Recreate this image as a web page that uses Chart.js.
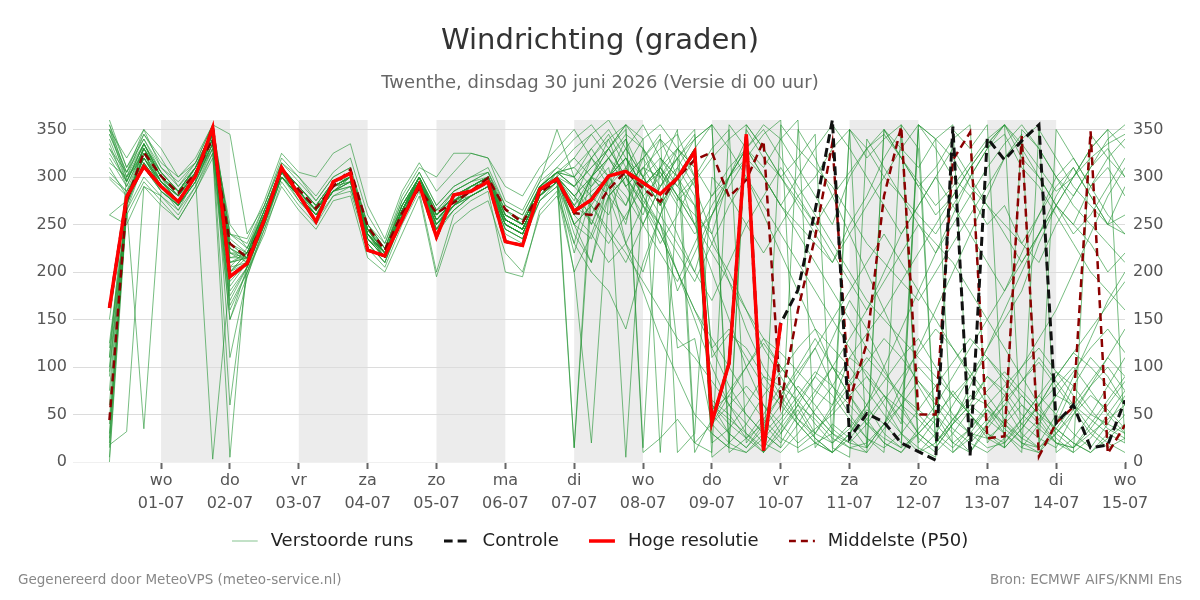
<!DOCTYPE html>
<html><head><meta charset="utf-8">
<script src="https://cdn.jsdelivr.net/npm/chart.js@4.4.1/dist/chart.umd.min.js"></script>
<style>html,body{margin:0;padding:0;background:#fff;}canvas{display:block;}</style>
</head><body>
<canvas id="c" width="1200" height="600"></canvas>
<script>
// time axis: hours since di 30-06-2026 00:00
const hours = [6,12,18,24,30,36,42,48,54,60,66,72,78,84,90,96,102,108,114,120,126,132,138,144,150,156,162,168,174,180,186,192,198,204,210,216,222,228,234,240,246,252,258,264,270,276,282,288,294,300,306,312,318,324,330,336,342,348,354,360];
const tickHours = [24,48,72,96,120,144,168,192,216,240,264,288,312,336,360];
const tickDays = ['wo','do','vr','za','zo','ma','di','wo','do','vr','za','zo','ma','di','wo'];
const tickDates = ['01-07','02-07','03-07','04-07','05-07','06-07','07-07','08-07','09-07','10-07','11-07','12-07','13-07','14-07','15-07'];
const shadedDays = [[24,48],[72,96],[120,144],[168,192],[216,240],[264,288],[312,336]];
const yTicks = [0,50,100,150,200,250,300,350];
const legendNames = ['Verstoorde runs','Controle','Hoge resolutie','Middelste (P50)'];

const hres = [162,279,311,290,274,301,352,195,209,255,310,281,253,295,304,223,217,255,292,237,281,285,295,232,228,287,298,264,276,301,306,294,282,299,327,42,104,345,12,146];
const control = [162,279,311,290,274,301,352,195,209,255,310,281,253,295,304,223,217,255,292,237,281,285,295,232,228,287,298,264,276,301,306,294,282,299,327,42,104,345,12,146,181,265,360,25,51,42,20,11,2,353,7,341,318,338,355,41,60,15,18,65];
const p50 = [44,275,326,301,283,304,340,230,215,255,308,287,267,290,308,248,223,262,288,262,273,285,299,266,252,283,297,262,260,287,306,288,274,299,318,326,279,297,338,62,160,237,336,65,125,280,353,50,50,318,347,25,27,343,6,41,58,348,9,39];

const m01 = [355,300,335,300,285,310,350,225,210,255,310,290,270,295,305,245,215,260,300,250,270,290,300,250,240,280,305,290,320,300,270,310,330,345,300,20,35,60,90,80,45,30,60,110,95,70,40,355,330,300,280,250,270,230,260,300,320,290,310,280];
const m02 = [15,275,325,290,275,300,345,200,220,265,305,280,260,285,300,235,220,270,295,260,280,285,295,260,250,290,300,240,210,280,300,250,290,320,340,355,10,25,40,20,50,75,100,85,60,30,15,350,20,45,70,60,35,20,10,40,80,110,90,60];
const m03 = [360,310,345,320,290,315,355,345,240,270,315,300,275,300,310,250,225,275,305,270,290,300,305,270,260,295,310,300,330,350,320,290,305,280,260,240,300,330,355,340,310,280,250,300,330,345,320,290,260,280,310,335,355,320,300,270,250,290,320,340];
const m04 = [120,265,315,285,270,295,335,180,205,250,300,275,255,280,290,230,210,255,290,240,265,280,290,240,230,275,295,260,300,280,255,300,320,290,270,60,30,15,40,70,95,120,80,50,25,10,355,330,20,45,65,90,70,40,25,15,50,80,100,75];
const m05 = [335,290,330,305,285,305,340,230,215,260,305,285,265,290,300,240,220,265,295,255,270,285,295,255,245,285,300,270,290,310,230,180,130,90,50,30,15,350,320,300,270,240,210,250,280,320,350,10,30,60,90,120,150,180,230,270,300,330,350,20];
const m06 = [45,280,320,295,275,300,345,160,200,255,300,280,260,290,295,235,215,260,300,265,275,280,290,250,240,280,295,250,270,300,330,355,320,300,330,60,40,25,50,80,65,40,20,35,60,85,110,130,100,70,50,30,20,45,70,50,30,15,40,70];
const m07 = [305,285,310,290,265,300,330,205,225,260,310,290,270,285,300,245,225,270,300,260,285,295,305,265,255,290,310,330,345,320,300,275,250,200,150,100,60,30,10,355,330,310,290,260,230,210,190,170,200,230,260,290,320,340,355,10,25,50,80,110];
const m08 = [90,270,335,300,280,310,350,110,195,250,305,285,265,295,305,240,215,260,295,250,275,290,300,255,245,285,305,15,280,300,320,290,310,330,300,40,20,10,30,50,80,60,35,20,15,40,70,100,80,50,30,25,40,60,45,20,10,25,50,75];
const m09 = [345,300,325,295,280,305,340,220,210,255,300,280,265,290,300,235,215,265,295,245,270,285,295,250,240,280,300,280,300,290,270,320,340,300,270,230,200,160,120,90,60,30,20,40,15,350,330,310,340,355,20,40,60,30,15,350,320,290,260,240];
const m10 = [18,32,290,280,265,290,325,5,215,260,305,285,265,290,295,240,220,265,295,255,275,285,295,255,245,285,300,260,240,290,310,280,300,330,350,55,70,100,130,115,95,75,60,85,110,90,70,55,40,20,35,60,80,100,120,95,70,50,40,30];
const m11 = [330,295,335,300,285,310,345,210,220,265,310,290,270,295,305,250,225,270,300,260,280,290,300,265,250,290,305,300,280,260,310,340,355,330,310,280,300,320,345,360,10,20,30,350,330,300,280,260,240,270,300,330,345,310,290,260,230,200,180,160];
const m12 = [110,275,310,285,270,295,335,170,205,250,300,280,260,285,290,230,210,260,290,245,265,280,290,245,235,275,290,220,280,300,5,290,310,280,300,120,140,110,80,60,40,20,10,25,45,70,55,30,15,40,60,90,75,50,35,20,15,30,45,60];
const m13 = [298,280,320,290,275,300,340,230,215,260,305,285,265,290,300,240,220,265,295,255,275,285,295,255,245,285,300,280,300,330,355,330,300,270,240,260,290,320,300,270,250,230,210,240,270,300,330,355,340,320,290,270,250,230,210,250,280,310,330,300];
const m14 = [0,265,300,280,260,290,330,60,200,245,300,280,260,285,295,235,215,260,295,250,270,285,295,250,240,280,295,200,20,280,300,270,310,290,320,65,50,25,10,35,60,45,25,15,20,40,60,45,25,10,30,55,40,20,15,30,50,70,55,35];
const m15 = [350,305,340,310,290,310,350,240,225,265,310,290,270,295,305,245,225,270,300,265,285,295,305,260,250,290,305,310,330,300,280,250,220,190,230,270,300,330,350,320,290,260,230,200,170,150,130,110,90,70,50,30,15,350,330,300,270,250,230,210];
const m16 = [125,270,325,290,275,300,345,200,210,255,305,285,265,290,300,240,220,265,295,250,275,285,295,255,245,285,300,270,255,230,260,290,310,280,250,220,190,160,130,100,75,50,30,20,40,65,90,115,140,120,95,70,45,25,15,35,60,85,110,90];
const m17 = [320,290,330,300,280,305,345,215,220,260,305,285,265,290,300,245,220,265,300,255,275,285,300,255,245,285,300,290,310,330,350,10,25,45,20,10,355,330,310,340,360,15,40,25,10,350,320,290,310,340,355,20,45,70,50,25,10,345,320,300];
const m18 = [60,285,330,295,280,305,340,225,215,260,305,285,265,290,300,240,220,265,295,260,275,285,295,255,245,285,300,265,285,300,320,290,260,230,200,170,210,250,280,310,280,250,220,190,160,200,240,270,300,270,240,210,180,220,260,290,310,280,250,260];
const m19 = [340,295,330,300,285,310,345,220,215,255,305,280,260,290,300,240,215,260,295,250,270,285,295,250,240,280,300,250,270,240,210,250,290,320,345,5,20,40,70,95,120,140,120,100,75,50,30,15,5,350,330,355,15,35,60,90,115,100,80,60];
const m20 = [20,270,315,290,270,300,340,185,210,255,300,280,260,285,295,235,215,260,290,250,270,280,290,250,240,280,295,230,300,320,290,310,280,120,130,40,60,80,60,40,20,35,50,70,90,70,45,25,10,30,55,75,95,75,55,35,20,10,30,50];
const m21 = [310,280,320,290,275,300,335,200,215,260,305,285,265,290,300,245,220,265,300,260,280,290,300,260,250,290,305,320,345,360,330,300,270,300,330,355,20,355,330,300,320,345,15,5,340,310,280,250,220,250,280,310,335,355,330,300,280,310,340,355];
const m22 = [100,275,325,295,275,300,340,195,210,255,305,285,265,290,300,240,220,265,295,255,275,285,295,255,245,285,300,280,260,300,320,280,240,200,160,130,100,70,45,25,15,30,55,80,105,130,110,85,60,35,20,10,25,45,70,95,80,55,35,25];
const m23 = [355,310,340,305,285,310,350,235,220,265,310,290,270,295,305,250,225,270,300,265,285,295,300,265,255,290,305,300,320,345,310,280,250,220,190,230,270,300,260,220,180,140,100,70,45,20,10,35,60,90,120,150,180,210,240,270,250,230,200,220];
const m24 = [30,280,320,295,275,300,340,210,215,260,305,285,265,290,300,240,220,265,295,255,275,285,295,255,245,285,300,260,300,340,355,15,320,300,330,110,135,120,90,65,40,20,10,30,55,40,20,355,340,10,25,45,65,85,105,80,55,30,15,25];
const m25 = [325,295,335,300,280,305,345,215,215,260,305,285,265,290,300,245,220,270,300,260,280,290,300,260,250,290,305,290,270,245,220,190,160,130,110,85,60,40,20,10,30,55,80,110,135,160,190,220,250,280,310,335,355,330,300,270,240,260,290,320];
const m26 = [5,270,35,285,270,295,335,150,205,250,300,280,260,285,295,235,215,260,290,245,270,280,290,245,235,280,295,15,300,320,290,310,300,320,10,45,75,100,125,100,75,50,30,15,10,35,60,85,65,45,30,15,20,40,60,80,100,75,50,30];
const m27 = [345,305,335,305,285,310,345,230,220,265,310,285,265,295,300,245,220,265,300,260,280,290,300,260,250,290,305,310,290,320,345,330,305,275,295,320,340,355,330,300,275,250,280,305,330,350,320,295,270,290,315,340,355,335,310,285,300,320,335,345];
const m28 = [75,275,320,290,275,300,340,205,210,255,305,285,265,290,300,240,220,265,295,255,275,285,295,255,245,285,300,280,250,290,320,300,270,300,320,50,30,15,35,60,90,120,150,180,210,240,210,180,150,120,90,60,40,25,45,70,95,120,140,115];
const m29 = [300,285,315,290,270,300,3,195,210,255,300,280,260,285,295,240,215,260,290,250,270,280,290,250,240,280,295,270,300,330,355,340,10,280,250,280,310,330,300,270,240,210,180,150,120,95,70,50,30,15,35,55,30,10,350,320,290,270,250,240];
const m30 = [260,275,310,285,270,295,330,175,205,250,300,280,260,285,290,230,210,255,290,245,265,280,290,245,235,275,290,250,235,280,300,320,290,310,280,60,45,30,15,40,65,90,70,45,25,15,30,55,80,105,130,110,85,60,40,20,15,35,60,85];
const m31 = [350,320,350,330,300,315,355,240,230,270,320,300,280,305,320,260,230,280,310,300,325,325,320,275,265,300,320,340,355,330,300,320,345,10,30,300,280,250,220,250,280,300,330,350,15,40,80,120,160,200,240,280,320,345,20,50,90,130,170,200];
const m32 = [260,250,290,270,255,285,320,150,195,245,290,265,245,275,280,215,200,240,280,195,250,265,275,220,200,260,280,230,200,180,140,210,260,300,250,200,150,100,60,30,60,90,130,170,140,100,60,30,15,40,80,120,160,200,240,280,310,280,250,290];
const m33 = [110,300,345,315,300,320,355,240,235,275,325,305,300,325,335,270,235,285,315,285,305,325,320,290,280,310,330,350,320,340,290,260,310,350,20,40,70,50,30,15,350,320,280,240,200,160,120,80,50,30,10,40,70,100,130,160,200,240,280,310];
const m34 = [40,260,295,275,255,285,325,165,200,240,295,270,250,280,285,225,205,250,285,200,260,275,285,200,195,265,285,200,240,210,230,270,250,180,220,260,300,340,10,30,55,25,10,350,320,340,355,20,45,75,50,25,15,35,60,90,115,140,165,190];
const m35 = [330,305,350,310,295,315,345,250,225,270,315,295,275,300,310,250,230,275,305,270,290,300,310,270,260,295,350,300,250,300,330,300,340,320,290,240,190,140,100,70,45,25,10,30,60,100,140,180,220,260,300,330,355,15,40,70,60,45,30,20];
const m36 = [150,280,330,300,270,305,340,220,220,255,305,275,255,290,300,235,215,265,300,245,280,290,295,250,240,285,300,320,300,280,230,200,260,310,340,355,330,300,270,240,210,180,150,120,90,60,30,10,20,40,60,45,30,15,10,30,55,80,110,140];
const m37 = [315,300,320,295,280,300,335,200,220,260,300,285,260,295,305,240,220,265,300,255,275,290,300,255,245,285,300,250,210,300,340,270,230,260,300,330,350,20,45,70,100,130,100,70,40,20,10,30,50,70,90,110,90,70,50,35,20,10,25,40];
const m38 = [95,270,315,290,275,300,340,210,215,260,305,285,265,290,300,240,220,265,295,255,275,285,295,255,245,285,300,275,320,290,250,330,280,240,200,260,300,330,300,270,300,330,355,330,300,270,240,270,300,330,300,270,240,210,240,270,300,330,350,330];
const m39 = [350,295,335,305,285,310,345,225,215,260,305,285,265,290,300,245,220,265,300,260,280,290,300,260,250,290,305,290,310,330,300,270,240,200,160,120,80,50,30,15,40,70,100,130,160,190,220,250,230,210,180,150,120,90,60,30,15,40,65,90];
const m40 = [25,275,330,295,280,305,345,190,210,255,305,285,265,290,300,240,220,265,295,255,275,285,295,255,245,285,300,260,300,320,340,300,270,330,310,30,15,10,25,45,70,95,80,60,40,25,15,30,50,20,10,35,60,85,110,85,60,35,20,10];
const members = [m01,m02,m03,m04,m05,m06,m07,m08,m09,m10,m11,m12,m13,m14,m15,m16,m17,m18,m19,m20,m21,m22,m23,m24,m25,m26,m27,m28,m29,m30,m31,m32,m33,m34,m35,m36,m37,m38,m39,m40];

const FONT = 'DejaVu Sans';
const ENS_COLOR = 'rgba(35,148,52,0.62)';
const toXY = arr => arr.map((v, i) => ({x: hours[i], y: v}));

const datasets = [
  {label: legendNames[2], data: toXY(hres), borderColor: '#ff0000', borderWidth: 3.5},
  {label: legendNames[1], data: toXY(control), borderColor: '#111111', borderWidth: 3, borderDash: [9, 5]},
  {label: legendNames[3], data: toXY(p50), borderColor: '#8b0000', borderWidth: 2.5, borderDash: [8, 5]}
].concat(members.map(m => ({label: legendNames[0], data: toXY(m), borderColor: ENS_COLOR, borderWidth: 1})));
datasets.forEach(d => { d.pointRadius = 0; d.pointHoverRadius = 0; d.fill = false; d.tension = 0; d.yAxisID = 'y'; });

// legend swatches: 30px box, line over the first 26px
function swatch(color, width, dash) {
  const c = document.createElement('canvas');
  c.width = 30; c.height = 10;
  const g = c.getContext('2d');
  g.strokeStyle = color; g.lineWidth = width; g.setLineDash(dash);
  g.beginPath(); g.moveTo(0, 5); g.lineTo(26, 5); g.stroke();
  return c;
}
const GAP = '\u0020\u0020\u0020';

const bandPlugin = {
  id: 'bands',
  beforeDraw(chart) {
    const {ctx, chartArea: a, scales: {x}} = chart;
    ctx.save();
    ctx.fillStyle = '#ececec';
    shadedDays.forEach(([s, e]) => {
      const x0 = Math.max(x.getPixelForValue(s), a.left);
      const x1 = Math.min(x.getPixelForValue(e), a.right);
      ctx.fillRect(x0, a.top, x1 - x0, a.bottom - a.top);
    });
    ctx.restore();
  }
};
const footerPlugin = {
  id: 'footer',
  afterDraw(chart) {
    const ctx = chart.ctx;
    ctx.save();
    ctx.font = '13.5px "' + FONT + '"';
    ctx.fillStyle = '#888888';
    ctx.textBaseline = 'middle';
    ctx.textAlign = 'left';
    ctx.fillText('Gegenereerd door MeteoVPS (meteo-service.nl)', 18, 580);
    ctx.textAlign = 'right';
    ctx.fillText('Bron: ECMWF AIFS/KNMI Ens', 1182, 580);
    ctx.restore();
  }
};

const yAxisBase = {
  min: 0, max: 360,
  afterBuildTicks: s => { s.ticks = yTicks.map(v => ({value: v})); },
  border: {display: false}
};

new Chart(document.getElementById('c'), {
  type: 'line',
  data: {datasets},
  plugins: [bandPlugin, footerPlugin],
  options: {
    responsive: false, animation: false, devicePixelRatio: 1,
    events: [],
    layout: {padding: {left: 0, right: 0, top: 0, bottom: 40}},
    plugins: {
      title: {display: true, text: 'Windrichting (graden)', color: '#333333',
        font: {family: FONT, size: 29, weight: 'normal'}, padding: {top: 23.6, bottom: 0}},
      subtitle: {display: true, text: 'Twenthe, dinsdag 30 juni 2026 (Versie di 00 uur)', color: '#666666',
        font: {family: FONT, size: 18, weight: 'normal'}, padding: {top: 13.8, bottom: 26.2}},
      legend: {
        position: 'bottom',
        labels: {
          usePointStyle: true, pointStyleWidth: 30, padding: 13, color: '#222222',
          font: {family: FONT, size: 18},
          generateLabels: () => [
            {text: legendNames[0] + GAP, pointStyle: swatch('rgba(35,148,52,0.55)', 1, []), fillStyle: 'rgba(0,0,0,0)', strokeStyle: 'rgba(0,0,0,0)', lineWidth: 0, hidden: false, datasetIndex: 3, fontColor: '#222222'},
            {text: legendNames[1] + GAP, pointStyle: swatch('#111111', 3, [9, 5]), fillStyle: 'rgba(0,0,0,0)', strokeStyle: 'rgba(0,0,0,0)', lineWidth: 0, hidden: false, datasetIndex: 1, fontColor: '#222222'},
            {text: legendNames[2] + GAP, pointStyle: swatch('#ff0000', 3.5, []), fillStyle: 'rgba(0,0,0,0)', strokeStyle: 'rgba(0,0,0,0)', lineWidth: 0, hidden: false, datasetIndex: 0, fontColor: '#222222'},
            {text: legendNames[3], pointStyle: swatch('#8b0000', 2.5, [7, 5]), fillStyle: 'rgba(0,0,0,0)', strokeStyle: 'rgba(0,0,0,0)', lineWidth: 0, hidden: false, datasetIndex: 2, fontColor: '#222222'}
          ]
        }
      },
      tooltip: {enabled: false}
    },
    scales: {
      x: {
        type: 'linear', min: -6.7, max: 360,
        afterBuildTicks: s => { s.ticks = tickHours.map(v => ({value: v})); },
        ticks: {
          autoSkip: false, maxRotation: 0, minRotation: 0, padding: 1, color: '#555555',
          font: {family: FONT, size: 16, lineHeight: 1.4},
          callback: v => { const i = tickHours.indexOf(v); return i < 0 ? '' : [tickDays[i], tickDates[i]]; }
        },
        grid: {drawOnChartArea: false, drawTicks: true, tickLength: 7, tickWidth: 2, color: '#666666'},
        border: {display: false},
        afterFit: s => { s.height = 57; }
      },
      y: Object.assign({}, yAxisBase, {
        position: 'left',
        ticks: {color: '#555555', font: {family: FONT, size: 16}, padding: 6},
        grid: {drawTicks: false, lineWidth: 1, color: c => (c.tick && c.tick.value === 0) ? '#f0f0f0' : '#dcdcdc'},
        afterFit: s => { s.width = 73; }
      }),
      y2: Object.assign({}, yAxisBase, {
        position: 'right', display: true,
        ticks: {color: '#555555', font: {family: FONT, size: 16}, padding: 8},
        grid: {display: false, drawTicks: false},
        afterFit: s => { s.width = 75; }
      })
    }
  }
});
</script>
</body></html>
